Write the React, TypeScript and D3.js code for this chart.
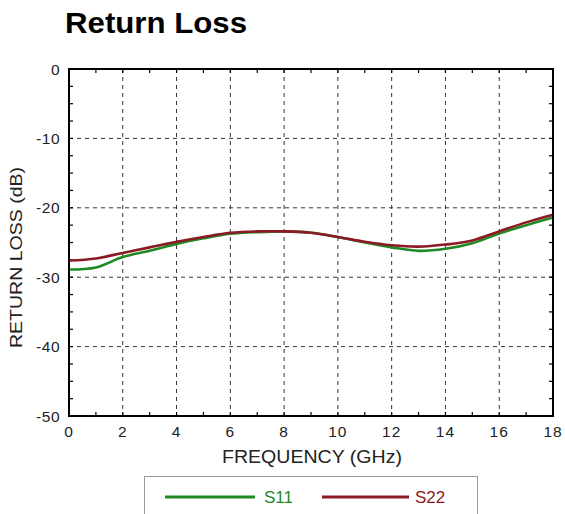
import React from "react";
import * as d3 from "d3";

const freqs = [0, 1, 2, 3, 4, 5, 6, 7, 8, 9, 10, 11, 12, 13, 14, 15, 16, 17, 18];
const s11 = [-28.9, -28.6, -27.1, -26.2, -25.2, -24.4, -23.75, -23.5, -23.4, -23.6, -24.2, -25.0, -25.7, -26.2, -25.9, -25.1, -23.7, -22.5, -21.4];
const s22 = [-27.6, -27.3, -26.5, -25.7, -24.9, -24.2, -23.6, -23.4, -23.4, -23.6, -24.2, -24.9, -25.4, -25.6, -25.3, -24.7, -23.4, -22.1, -21.0];
const xTicks = [0, 2, 4, 6, 8, 10, 12, 14, 16, 18];
const yTicks = [0, -10, -20, -30, -40, -50];
const seriesNames = ["S11", "S22"];

const W = 565, H = 514;
const L = 69, R = 553, T = 69, B = 416;
const GREEN = "#1f8a24";
const RED = "#8c1a24";
const FONT = "'Liberation Sans', Arial, Helvetica, sans-serif";

export default function App() {
  const x = d3.scaleLinear().domain([0, 18]).range([L, R]);
  const y = d3.scaleLinear().domain([-50, 0]).range([B, T]);
  const line = d3
    .line<number>()
    .x((_, i) => x(freqs[i]))
    .y((d) => y(d))
    .curve(d3.curveCatmullRom.alpha(0.5));

  const xMinor = d3.range(0, 18.001, 1);
  const yMinor = d3.range(-50, 0.001, 2.5);

  return (
    <svg width={W} height={H} style={{ position: "absolute", left: 0, top: 0, background: "#fff" }}>
      <text x={65} y={33} fontFamily={FONT} fontWeight="bold" fontSize={29} textLength={182} lengthAdjust="spacingAndGlyphs" fill="#000">
        Return Loss
      </text>

      {/* grid */}
      {xTicks.slice(1, -1).map((t) => (
        <line key={"gx" + t} x1={x(t)} x2={x(t)} y1={T} y2={B} stroke="#333" strokeWidth={1} strokeDasharray="4,4" />
      ))}
      {yTicks.slice(1, -1).map((t) => (
        <line key={"gy" + t} x1={L} x2={R} y1={y(t)} y2={y(t)} stroke="#333" strokeWidth={1} strokeDasharray="4,4" />
      ))}

      {/* minor ticks */}
      {xMinor.map((t) => (
        <g key={"mx" + t}>
          <line x1={x(t)} x2={x(t)} y1={B} y2={B - 4} stroke="#000" strokeWidth={1.2} />
          <line x1={x(t)} x2={x(t)} y1={T} y2={T + 4} stroke="#000" strokeWidth={1.2} />
        </g>
      ))}
      {yMinor.map((t) => (
        <g key={"my" + t}>
          <line x1={L} x2={L + 4} y1={y(t)} y2={y(t)} stroke="#000" strokeWidth={1.2} />
          <line x1={R} x2={R - 4} y1={y(t)} y2={y(t)} stroke="#000" strokeWidth={1.2} />
        </g>
      ))}

      {/* curves */}
      <path d={line(s11) || ""} fill="none" stroke={GREEN} strokeWidth={2.6} />
      <path d={line(s22) || ""} fill="none" stroke={RED} strokeWidth={2.6} />

      {/* frame */}
      <rect x={L} y={T} width={R - L} height={B - T} fill="none" stroke="#000" strokeWidth={2} />

      {/* tick labels */}
      {xTicks.map((t) => (
        <text key={"xl" + t} x={x(t)} y={437} textAnchor="middle" fontFamily={FONT} fontSize={15.5} letterSpacing={1} fill="#222">
          {t}
        </text>
      ))}
      {yTicks.map((t) => (
        <text key={"yl" + t} x={60} y={y(t) + 5.5} textAnchor="end" fontFamily={FONT} fontSize={15.5} letterSpacing={0.5} fill="#222">
          {t}
        </text>
      ))}

      {/* axis titles */}
      <text x={222} y={463} fontFamily={FONT} fontSize={17.5} textLength={180} lengthAdjust="spacingAndGlyphs" fill="#222">
        FREQUENCY (GHz)
      </text>
      <text transform={`translate(22,348) rotate(-90)`} fontFamily={FONT} fontSize={16} textLength={181} lengthAdjust="spacingAndGlyphs" fill="#222">
        RETURN LOSS (dB)
      </text>

      {/* legend */}
      <rect x={144.5} y={476.5} width={333} height={50} fill="#fff" stroke="#999" strokeWidth={1} />
      <line x1={165} x2={255} y1={497} y2={497} stroke={GREEN} strokeWidth={2.8} />
      <text x={264} y={503} fontFamily={FONT} fontSize={17} fill={GREEN}>{seriesNames[0]}</text>
      <line x1={322} x2={409} y1={497} y2={497} stroke={RED} strokeWidth={2.8} />
      <text x={415} y={503} fontFamily={FONT} fontSize={17} fill={RED}>{seriesNames[1]}</text>
    </svg>
  );
}
